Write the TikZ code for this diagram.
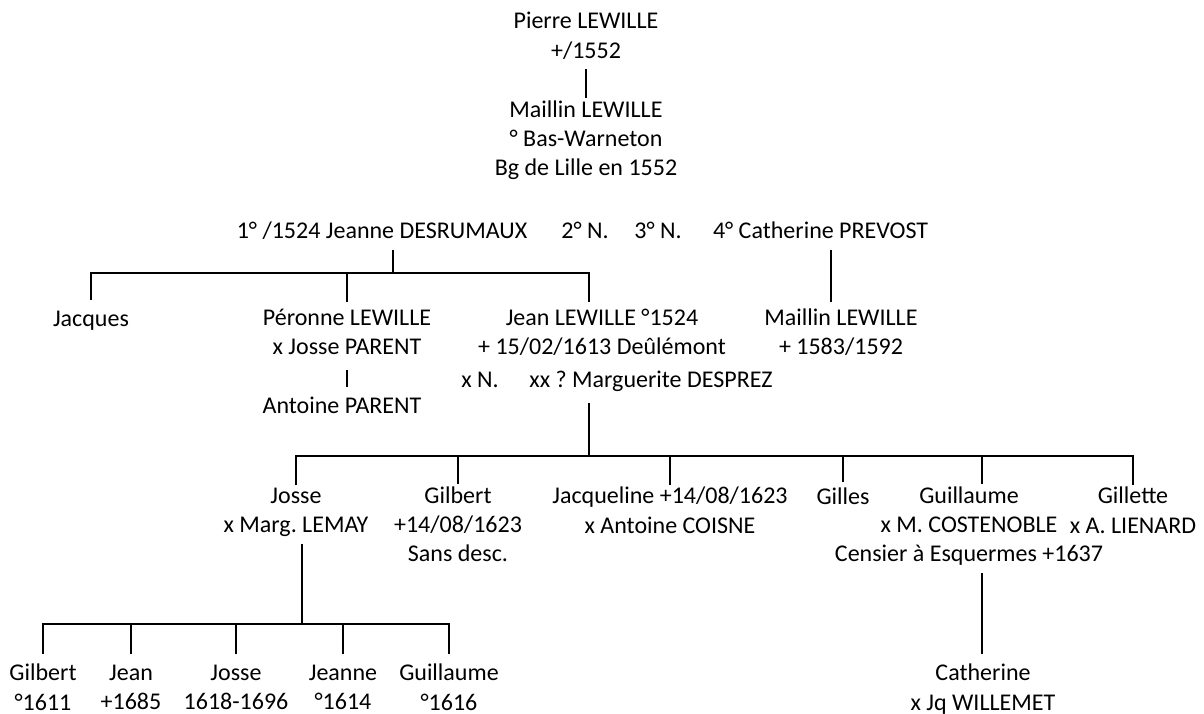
\documentclass[tikz,border=0pt]{standalone}
\usepackage{fontspec}
\setmainfont{Carlito}
\frenchspacing
\begin{document}
\begin{tikzpicture}[x=0.75pt,y=-0.75pt,line width=1.5pt,
    person/.style={align=center,inner xsep=0pt,inner ysep=1pt,
      font=\fontsize{18}{22}\selectfont,
      execute at begin node=\strut,execute at end node=\strut},
    gen2/.style={person,inner ysep=4pt},
    gen4/.style={person,inner ysep=7pt}]
  \useasboundingbox (0,0) rectangle (1204,714);
  \node[person] (pierre) at (586,39.5) {Pierre LEWILLE\\+/1552};
  \node[person] (maillin) at (586,142.5) {Maillin LEWILLE\\° Bas-Warneton\\Bg de Lille en 1552};
  \node[person] (mar1) at (382,233) {1° /1524 Jeanne DESRUMAUX};
  \node[person] (mar2) at (585,233) {2° N.};
  \node[person] (mar3) at (658,233) {3° N.};
  \node[person,anchor=west] (mar4) at (712,233) {4° Catherine PREVOST};
  \node[gen2] (jacques) at (91,321) {Jacques};
  \node[gen2] (peronne) at (347,336) {Péronne LEWILLE\\x Josse PARENT};
  \node[gen2] (jean) at (602,336) {Jean LEWILLE °1524\\+ 15/02/1613 Deûlémont};
  \node[gen2] (maillinb) at (841,336) {Maillin LEWILLE\\+ 1583/1592};
  \node[gen2] (jeanx) at (617,382) {x N.\hspace{1.05em} xx ? Marguerite DESPREZ};
  \node[gen2] (antoine) at (342,408) {Antoine PARENT};
  \node[person] (josse) at (296,514.5) {Josse\\x Marg. LEMAY};
  \node[person] (gilbert) at (458,528.5) {Gilbert\\+14/08/1623\\Sans desc.};
  \node[person] (jacqueline) at (670,514.5) {Jacqueline +14/08/1623\\x Antoine COISNE};
  \node[person] (gilles) at (843,499) {Gilles};
  \node[person] (guillaume) at (969,528.5) {Guillaume\\x M. COSTENOBLE\\Censier à Esquermes +1637};
  \node[person] (gillette) at (1133,514.5) {Gillette\\x A. LIENARD};
  \node[gen4] (gilbertb) at (43,691.5) {Gilbert\\°1611};
  \node[gen4] (jeanb) at (131,691.5) {Jean\\+1685};
  \node[gen4] (josseb) at (236,691.5) {Josse\\1618-1696};
  \node[gen4] (jeanne) at (343,691.5) {Jeanne\\°1614};
  \node[gen4] (guillaumeb) at (449,691.5) {Guillaume\\°1616};
  \node[gen4] (catherine) at (983,691.5) {Catherine\\x Jq WILLEMET};

  \draw (pierre) -- (maillin);
  \coordinate (b1) at (393,273);
  \draw (b1 |- mar1.south) -- (b1);
  \draw (jacques.north) |- (b1) -| ([xshift=-10pt]jean.north);
  \draw (peronne.north) -- (peronne.north |- b1);
  \draw ([xshift=-7.5pt]maillinb.north) -- ([xshift=-7.5pt]maillinb.north |- mar4.south);
  \draw (peronne.south) -- (peronne.south |- antoine.north);
  \coordinate (b2) at (589,456);
  \draw (b2 |- jeanx.south) -- (b2);
  \draw (josse.north) |- (b2) -| (gillette.north);
  \foreach \n in {gilbert,jacqueline,gilles}
    \draw (\n.north) -- (\n.north |- b2);
  \draw ([xshift=9.75pt]guillaume.north) -- ([xshift=9.75pt]guillaume.north |- b2);
  \coordinate (b3) at (302,624);
  \draw (b3 |- josse.south) -- (b3);
  \draw (gilbertb.north) |- (b3) -| (guillaumeb.north);
  \foreach \n in {jeanb,josseb,jeanne}
    \draw (\n.north) -- (\n.north |- b3);
  \draw ([xshift=9.75pt]guillaume.south) -- ([xshift=9.75pt]guillaume.south |- catherine.north);
\end{tikzpicture}
\end{document}
